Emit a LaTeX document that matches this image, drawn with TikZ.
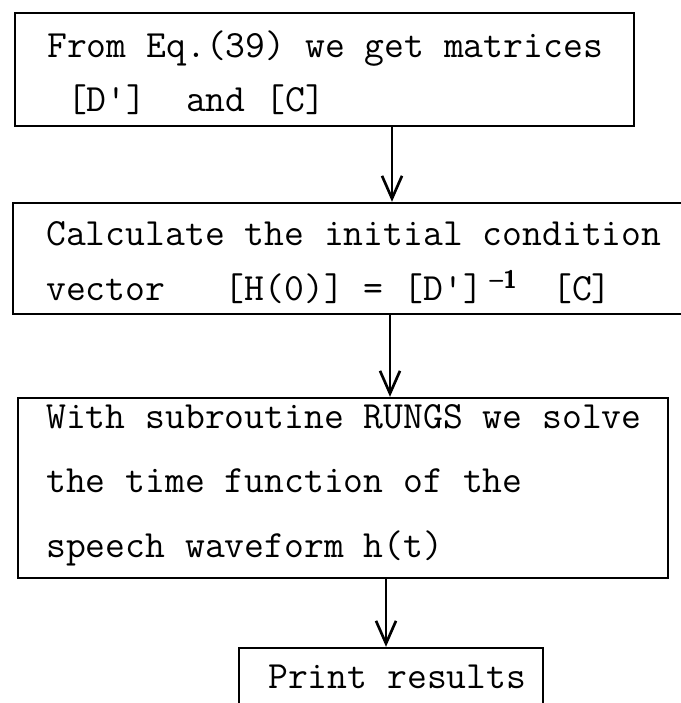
\documentclass[tikz,border=0pt]{standalone}
\usetikzlibrary{arrows.meta,fit}

\begin{document}
\begin{tikzpicture}[x=0.75pt,y=-0.75pt,
    box/.style={draw,line width=1.8pt,inner sep=0pt},
    txt/.style={anchor=base west,inner sep=0pt,font=\ttfamily\fontsize{28.9}{28.9}\selectfont},
    arr/.style={line width=2pt,-{Straight Barb[length=17pt,width=15pt,line width=2pt]}}]
    \useasboundingbox (0,0) rectangle (681,703);
    \node[box,fit={(15,13) (634,126)}] (b1) {};
    \node[box,fit={(13,203) (700,314)}] (b2) {};
    \node[box,fit={(18,398) (668,578)}] (b3) {};
    \node[box,fit={(239,648) (543,720)}] (b4) {};
    \node[txt] (l11) at (47,57) {From Eq.(39) we get matrices};
    \node[txt] (l12) at (47,111) {\ [D\textquotesingle]\ \ and [C]};
    \node[txt] (l21) at (46,245) {Calculate the initial condition};
    \node[txt] (l22) at (46,300) {vector\ \ \ [H(0)] = [D\textquotesingle]\makebox[52pt][l]{\,\raisebox{9pt}{\sffamily\bfseries\fontsize{19}{19}\selectfont\textendash1}}[C]};
    \node[txt] (l31) at (46,428) {With subroutine RUNGS we solve};
    \node[txt] (l32) at (46,492) {the time function of the};
    \node[txt] (l33) at (46,557) {speech waveform h(t)};
    \node[txt] (l41) at (268,688) {Print results};
    \coordinate (a1) at (392,0);
    \coordinate (a2) at (390,0);
    \coordinate (a3) at (386,0);
    \draw[arr] (b1.south -| a1) -- (b2.north -| a1);
    \draw[arr] (b2.south -| a2) -- (b3.north -| a2);
    \draw[arr] (b3.south -| a3) -- (b4.north -| a3);
\end{tikzpicture}
\end{document}
